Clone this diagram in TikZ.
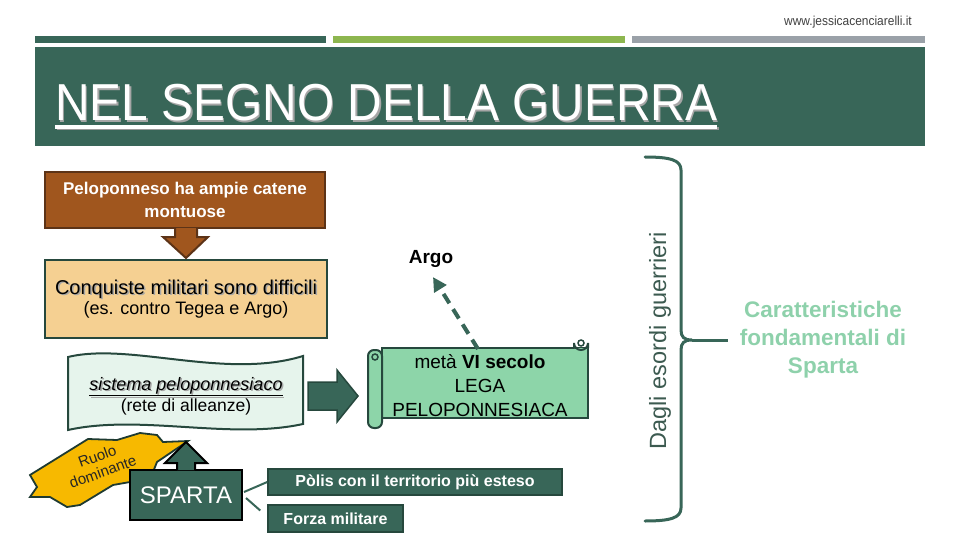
\documentclass[tikz,border=0pt]{standalone}
\usepackage{fontspec}
\setmainfont{Liberation Sans}
\newfontfamily\narrowfont[FakeStretch=0.92]{Liberation Sans}
\usetikzlibrary{arrows.meta,positioning,calc}
\definecolor{spgreen}{RGB}{56,102,88}
\definecolor{spdark}{RGB}{38,72,61}
\definecolor{splime}{RGB}{141,182,79}
\definecolor{spgray}{RGB}{154,161,168}
\definecolor{spbrown}{RGB}{160,86,30}
\definecolor{spbrowndk}{RGB}{92,51,23}
\definecolor{sptan}{RGB}{245,208,146}
\definecolor{spmint}{RGB}{230,244,236}
\definecolor{spscroll}{RGB}{141,213,169}
\definecolor{spyellow}{RGB}{247,185,0}
\definecolor{spcapt}{RGB}{142,209,171}
\newcommand{\shadowed}[1]{\leavevmode\rlap{\raisebox{-1.5pt}{\hspace{1.5pt}\textcolor{black!35}{#1}}}#1}

\begin{document}
\begin{tikzpicture}[x=1pt,y=-1pt,
  brownbox/.style={rectangle, draw=spbrowndk, line width=2.5pt, fill=spbrown,
               minimum width=280pt, minimum height=56pt, text=white,
               font=\fontsize{17}{23}\selectfont\bfseries, align=center},
  tanbox/.style={rectangle, draw=spdark, line width=2.5pt, fill=sptan,
               minimum width=282pt, minimum height=78pt, align=center},
  darkbox/.style={rectangle, draw=spdark, line width=1.5pt, fill=spgreen,
               text=white, font=\fontsize{16}{18}\selectfont\bfseries, inner sep=0pt},
  blockarr/.style={line width=2pt, line join=miter},
  link/.style={draw=spgreen, line width=2pt},
  brk/.style={draw=spgreen, line width=3pt, line cap=round},
  dasharr/.style={draw=spgreen, line width=4pt, dash pattern=on 11pt off 7pt,
               -{Triangle[length=14pt,width=14pt]}},
  scrollsty/.style={draw=spdark, line width=2pt, fill=spscroll}
]
\useasboundingbox (0,0) rectangle (960,540);

% Header
\node[anchor=base east, inner sep=0pt, text=black!75,
      font=\fontsize{13}{14}\narrowfont] (web) at (912,26) {www.jessicacenciarelli.it};
\fill[spgreen] (35,36) rectangle (326,43);
\fill[splime]  (333,36) rectangle (625,43);
\fill[spgray]  (632,36) rectangle (925,43);
\fill[spgreen] (35,47) rectangle (925,146);
\node[anchor=base west, inner sep=0pt, text=white,
      font=\fontsize{52}{56}\narrowfont] (title) at (55,121) {\shadowed{NEL SEGNO DELLA GUERRA}};
\fill[black!40] ($(title.base west)+(1.5,6)$) rectangle ($(title.base east)+(1.5,9.5)$);
\fill[white] ($(title.base west)+(0,4.5)$) rectangle ($(title.base east)+(0,8)$);

% Left column
\node[brownbox] (monti) at (185,200) {Peloponneso ha ampie catene\\montuose};
\node[tanbox] (conq) at (186,299) {{\fontsize{20}{24}\selectfont\shadowed{Conquiste militari sono difficili}}\\[1pt]
  {\fontsize{18}{22}\selectfont (es. contro Tegea e Argo)}};
\filldraw[blockarr, fill=spbrown, draw=spbrowndk]
  (175,228) -- (175,237) -- (163,237) -- (186,258) -- (208,237) -- (197,237) -- (197,228);

% Wavy banner
\filldraw[draw=spdark, line width=2pt, fill=spmint]
  (68,357) .. controls (130,342) and (225,380) .. (303,356)
  -- (303,424) .. controls (230,440) and (140,414) .. (68,430) -- cycle;
\node[align=center] (sist) at (186,396)
  {{\fontsize{18}{22}\selectfont\shadowed{\itshape\underline{sistema peloponnesiaco}}}\\
   {\fontsize{17.5}{21}\selectfont (rete di alleanze)}};
\filldraw[blockarr, fill=spgreen, draw=spdark, line width=1.5pt]
  (308,382) -- (337,382) -- (337,370) -- (358,396) -- (337,422) -- (337,410) -- (308,410) -- cycle;

% Scroll
\filldraw[scrollsty] (382,348) rectangle (588,418);
\filldraw[scrollsty] (574,348) -- (574,343) arc (180:0:7) -- (588,348);
\draw[draw=spdark, line width=1.5pt] (581,343) circle (3);
\filldraw[scrollsty, rounded corners=6pt] (368,350) rectangle (382,428);
\draw[draw=spdark, line width=1.5pt] (375,357) circle (3);
\node[align=center, font=\fontsize{19}{24}\selectfont] (lega) at (480,386)
  {metà \textbf{VI secolo}\\LEGA\\PELOPONNESIACA};
\coordinate (scrolltop) at (478,349);
\node[font=\fontsize{19}{22}\selectfont\bfseries] (argo) at (431,259) {Argo};
\draw[dasharr] (scrolltop) -- ($(argo.south)+(2,6)$);

% Sparta
\filldraw[draw=spdark!80!black, line width=1.8pt, fill=spyellow, line join=miter]
  (30,475) -- (88,439) -- (117,440) -- (140,433) -- (157,435) -- (163,442) -- (188,441)
  -- (157,462) -- (153,472) -- (130,482) -- (113,485) -- (80,505) -- (67,507)
  -- (50,497) -- (30,497) -- (37,487) -- cycle;
\node[rotate=20, align=center, text=black!85, inner sep=0pt,
      font=\fontsize{15}{16.5}\selectfont] (ruolo) at (100,464) {Ruolo\\dominante};
\node[rectangle, draw=black, line width=2pt, fill=spgreen, text=white,
      minimum width=112pt, minimum height=50pt,
      font=\fontsize{24}{26}\selectfont] (sparta) at (186,495) {SPARTA};
\filldraw[blockarr, fill=spgreen, draw=black]
  (177,470) -- (177,463) -- (165,463) -- (186,442) -- (207,463) -- (195,463) -- (195,470);
\node[darkbox, minimum width=294pt, minimum height=26pt] (polis) at (415,482) {Pòlis con il territorio più esteso};
\node[darkbox, minimum width=135pt, minimum height=27pt] (forza) at (335.5,518.5) {Forza militare};
\draw[link] ($(sparta.east)+(1,-3)$) -- (polis.west);
\draw[link] ($(sparta.east)+(3,3)$) -- ($(forza.west)+(-7,-8)$);

% Bracket
\draw[brk] (645,157) .. controls (670,157) and (681,160) .. (681,170) -- (681,330)
  .. controls (681,337) and (684,340) .. (692,340)
  .. controls (684,340) and (681,343) .. (681,350) -- (681,508)
  .. controls (681,518) and (670,521) .. (645,521);
\node[rotate=90, text=spdark!90, font=\fontsize{23.5}{26}\selectfont] (esordi) at (660,341) {Dagli esordi guerrieri};
\node[align=center, text=spcapt, font=\fontsize{22.5}{28}\selectfont\bfseries] (carat) at (823,340)
  {Caratteristiche\\fondamentali di\\Sparta};
\draw[brk, line cap=butt] (692,340) -- ($(carat.west)+(-8,0)$);
\end{tikzpicture}
\end{document}
